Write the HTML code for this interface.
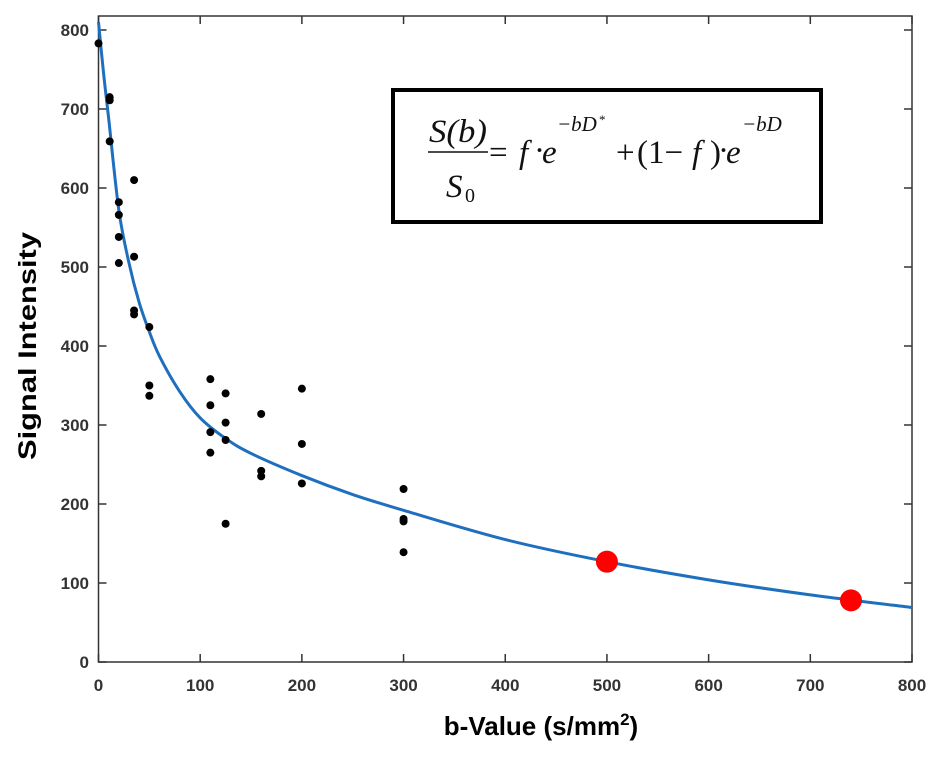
<!DOCTYPE html>
<html><head><meta charset="utf-8"><style>
html,body{margin:0;padding:0;background:#fff;}
svg{display:block;font-family:"Liberation Sans",sans-serif;}
</style></head><body>
<svg id="chart" width="942" height="763" viewBox="0 0 942 763" xmlns="http://www.w3.org/2000/svg">
<rect x="0" y="0" width="942" height="763" fill="#fff"/>
<g id="axes"></g>
<g id="curve"></g>
<g id="pts"></g>
<g id="red"></g>
<text transform="translate(36,346) rotate(-90)" text-anchor="middle" font-size="25" font-weight="bold" fill="#000" textLength="228" lengthAdjust="spacingAndGlyphs">Signal Intensity</text>
<text x="541" y="735" text-anchor="middle" font-size="26" font-weight="bold" fill="#000">b-Value (s/mm<tspan font-size="17" dy="-10">2</tspan><tspan dy="10">)</tspan></text>
<g>
<rect x="393" y="90" width="428" height="132" fill="#fff" stroke="#000" stroke-width="4"/>
<g font-family="Liberation Serif, serif" fill="#111">
<text x="458" y="142" font-size="33" font-style="italic" text-anchor="middle" textLength="58" lengthAdjust="spacingAndGlyphs">S(b)</text>
<line x1="428" y1="152" x2="488" y2="152" stroke="#111" stroke-width="1.5"/>
<text x="446" y="197" font-size="33" font-style="italic">S</text>
<text x="465" y="202" font-size="20">0</text>
<text x="489" y="163" font-size="33">=</text>
<text x="519" y="163" font-size="33" font-style="italic">f</text>
<text x="534" y="161" font-size="33">·</text>
<text x="542" y="163" font-size="33" font-style="italic">e</text>
<text x="557" y="131" font-size="21" font-style="italic">−bD</text>
<text x="599" y="124" font-size="13">*</text>
<text x="616" y="163" font-size="33">+</text>
<text x="637" y="163" font-size="33">(1−</text>
<text x="692" y="163" font-size="33" font-style="italic">f</text>
<text x="710" y="163" font-size="33">)</text>
<text x="718" y="161" font-size="33">·</text>
<text x="726" y="163" font-size="33" font-style="italic">e</text>
<text x="742" y="131" font-size="21" font-style="italic">−bD</text>
</g>
</g>
</svg>
<script>
const xTicks=[0,100,200,300,400,500,600,700,800];
const yTicks=[0,100,200,300,400,500,600,700,800];
const ptB=[0,11,11,11,20,20,20,20,35,35,35,35,50,50,50,110,110,110,110,125,125,125,125,160,160,160,200,200,200,300,300,300,300];
const ptS=[783,715,711,659,582,566,538,505,610,513,445,440,424,350,337,358,325,291,265,340,303,281,175,314,242,235,346,276,226,219,181,178,139];
const redB=[500,740];
const redS=[127,78];
const curveB=[0,5,10,20,30,40,50,60,80,100,125,150,200,250,300,400,500,600,700,800];
const curveS=[810,745,688,572,505,455,418,387,342,309,283,264,236,212,192,155,127,104,85,69];
const NS='http://www.w3.org/2000/svg';
const X0=98.5,X1=912,Y0=662,Y1=30,TOP=16;
function sx(v){return X0+(v-0)/(800-0)*(X1-X0);}
function sy(v){return Y0-(v-0)/(800-0)*(Y0-Y1);}
function mk(tag,attrs,parent){const e=document.createElementNS(NS,tag);for(const k in attrs)e.setAttribute(k,attrs[k]);parent.appendChild(e);return e;}
const ax=document.getElementById('axes');
const frame=mk('rect',{x:X0,y:TOP,width:X1-X0,height:Y0-TOP,fill:'none',stroke:'#333',"stroke-width":1.5},ax);


xTicks.forEach(t=>{
  const x=sx(t);
  const l=mk('path',{d:`M${x},${Y0}V${Y0-8}M${x},${TOP}V${TOP+8}`,stroke:'#333',"stroke-width":1.5},ax);
  
  
  const tx=mk('text',{x:x,y:691,"text-anchor":"middle","font-size":17,"font-weight":"bold",fill:'#333'},ax);
  tx.textContent=t;
  
  
});
yTicks.forEach(t=>{
  const y=sy(t);
  const l=mk('path',{d:`M${X0},${y}H${X0+8}M${X1},${y}H${X1-8}`,stroke:'#333',"stroke-width":1.5},ax);
  
  
  const tx=mk('text',{x:89,y:y+6,"text-anchor":"end","font-size":17,"font-weight":"bold",fill:'#333'},ax);
  tx.textContent=t;
  
  
});
const P=curveB.map((b,i)=>[sx(b),sy(curveS[i])]);
let d=`M${P[0][0]},${P[0][1]}`;
for(let i=0;i<P.length-1;i++){
  const p0=P[Math.max(i-1,0)],p1=P[i],p2=P[i+1],p3=P[Math.min(i+2,P.length-1)];
  const c1=[p1[0]+(p2[0]-p0[0])/6,p1[1]+(p2[1]-p0[1])/6];
  const c2=[p2[0]-(p3[0]-p1[0])/6,p2[1]-(p3[1]-p1[1])/6];
  d+=`C${c1[0]},${c1[1]} ${c2[0]},${c2[1]} ${p2[0]},${p2[1]}`;
}
const cv=mk('path',{d:d,fill:'none',stroke:'#1f6fbf',"stroke-width":3},document.getElementById('curve'));


const pg=document.getElementById('pts');
ptB.forEach((b,i)=>{
  const c=mk('circle',{cx:sx(b),cy:sy(ptS[i]),r:4,fill:'#000'},pg);
  
  
});
const rg=document.getElementById('red');
redB.forEach((b,i)=>{
  const c=mk('circle',{cx:sx(b),cy:sy(redS[i]),r:11,fill:'#f00'},rg);
  
  
});
</script>
</body></html>
